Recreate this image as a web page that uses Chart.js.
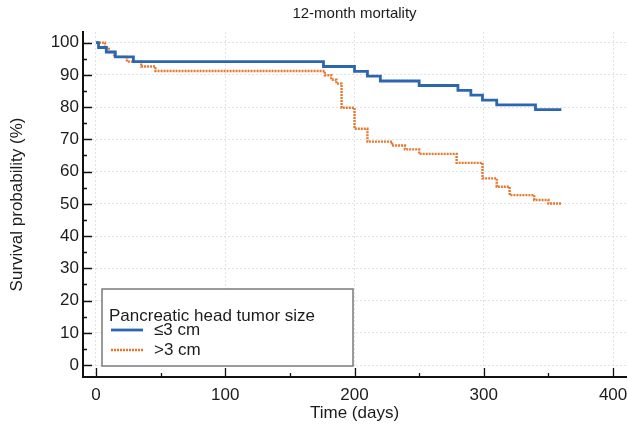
<!DOCTYPE html>
<html>
<head>
<meta charset="utf-8">
<script src="https://cdn.jsdelivr.net/npm/chart.js@4.4.1/dist/chart.umd.min.js"></script>
<style>
  html, body { margin: 0; padding: 0; background: #fff; }
</style>
</head>
<body>
<canvas id="km" width="628" height="435"></canvas>
<script>
// Kaplan-Meier, 12-month mortality by pancreatic head tumour size
const chartTitle = '12-month mortality';
const legendTitle = 'Pancreatic head tumor size';
const groupLabels = ['≤3 cm', '>3 cm'];
const xTickValues = [0, 100, 200, 300, 400];
const yTickValues = [0, 10, 20, 30, 40, 50, 60, 70, 80, 90, 100];

// ≤3 cm group: event times (days) and survival (%) after each step
const smallDays = [0, 2, 8, 15, 29, 176, 200, 210, 220, 250, 280, 290, 299, 310, 340, 360];
const smallSurv = [100, 98.5, 97.1, 95.6, 94.1, 92.6, 91.1, 89.6, 88.1, 86.7, 85.2, 83.7, 82.2, 80.7, 79.2, 79.2];

// >3 cm group
const largeDays = [0, 7, 10, 14, 24, 35, 46, 177, 182, 186, 190, 200, 210, 229, 239, 250, 279, 299, 310, 320, 339, 350, 360];
const largeSurv = [100, 98.5, 97.1, 95.6, 94.1, 92.6, 91.2, 89.9, 88.5, 87.3, 79.8, 73.3, 69.3, 68.1, 66.9, 65.5, 62.7, 57.9, 55.3, 52.7, 51.2, 50.1, 50.1];

const FONT = "'Liberation Sans', Arial, Helvetica, sans-serif";
const TEXT = '#1c1c1c';

function toPoints(xs, ys) {
    return xs.map((x, i) => ({ x: x, y: ys[i] }));
}

// titre centré sur la zone du graphique
const titlePlugin = {
    id: 'plotTitle',
    afterDraw(chart) {
        const { ctx, chartArea } = chart;
        ctx.save();
        ctx.font = '15px ' + FONT;
        ctx.fillStyle = TEXT;
        ctx.textAlign = 'center';
        ctx.textBaseline = 'middle';
        ctx.fillText(chartTitle, (chartArea.left + chartArea.right) / 2, 14);
        ctx.restore();
    }
};

// petites graduations vers l'intérieur
const innerTicks = {
    id: 'innerTicks',
    afterDraw(chart) {
        const { ctx, chartArea, scales } = chart;
        ctx.save();
        ctx.strokeStyle = '#111';
        ctx.lineWidth = 1.3;
        ctx.beginPath();
        for (let v = 0; v <= 400; v += 50) {
            const px = Math.round(scales.x.getPixelForValue(v)) + 0.5;
            const len = v % 100 === 0 ? 9 : 4;
            ctx.moveTo(px, chartArea.bottom);
            ctx.lineTo(px, chartArea.bottom - len);
        }
        for (let v = 0; v <= 100; v += 5) {
            const py = Math.round(scales.y.getPixelForValue(v)) + 0.5;
            const len = v % 10 === 0 ? 9 : 4;
            ctx.moveTo(chartArea.left, py);
            ctx.lineTo(chartArea.left + len, py);
        }
        ctx.stroke();
        ctx.restore();
    }
};

// légende encadrée en bas à gauche
const boxLegend = {
    id: 'boxLegend',
    afterDatasetsDraw(chart) {
        const { ctx } = chart;
        const x0 = 102, y0 = 289, w = 251, h = 77;
        ctx.save();
        ctx.fillStyle = '#fff';
        ctx.fillRect(x0, y0, w, h);
        ctx.strokeStyle = '#7a7a7a';
        ctx.lineWidth = 1.5;
        ctx.strokeRect(x0, y0, w, h);
        ctx.font = '17px ' + FONT;
        ctx.fillStyle = TEXT;
        ctx.textBaseline = 'middle';
        ctx.fillText(legendTitle, 109, 316);
        chart.data.datasets.forEach((ds, i) => {
            const cy = 330 + i * 20;
            ctx.strokeStyle = ds.borderColor;
            ctx.lineWidth = ds.borderWidth;
            ctx.setLineDash(ds.borderDash || []);
            ctx.beginPath();
            ctx.moveTo(111, cy);
            ctx.lineTo(143, cy);
            ctx.stroke();
            ctx.setLineDash([]);
            ctx.fillText(ds.label, 154, cy);
        });
        ctx.restore();
    }
};

const ctx = document.getElementById('km').getContext('2d');
const kmChart = new Chart(ctx, {
    type: 'line',
    data: {
        datasets: [
            {
                label: groupLabels[0],
                data: toPoints(smallDays, smallSurv),
                borderColor: '#2c66b3',
                borderWidth: 2.8,
                stepped: 'before',
                pointRadius: 0,
                fill: false
            },
            {
                label: groupLabels[1],
                data: toPoints(largeDays, largeSurv),
                borderColor: '#e8772d',
                borderWidth: 2.4,
                borderDash: [2, 1],
                stepped: 'before',
                pointRadius: 0,
                fill: false
            }
        ]
    },
    options: {
        responsive: false,
        animation: false,
        layout: { padding: { top: 32, right: 2, left: 0, bottom: 0 } },
        plugins: {
            legend: { display: false },
            tooltip: { enabled: false }
        },
        scales: {
            x: {
                type: 'linear',
                min: -10,
                max: 410,
                afterBuildTicks(scale) {
                    scale.ticks = xTickValues.map(v => ({ value: v }));
                },
                afterFit(scale) {
                    scale.height = 58;
                    scale.paddingLeft = 0;
                    scale.paddingRight = 0;
                },
                ticks: {
                    padding: 8,
                    color: TEXT,
                    font: { family: FONT, size: 17 },
                    maxRotation: 0
                },
                grid: {
                    color: '#dfe3e8',
                    lineWidth: 1,
                    drawTicks: false
                },
                border: { color: '#111', width: 2, dash: [2, 2] },
                title: {
                    display: true,
                    text: 'Time (days)',
                    color: TEXT,
                    font: { family: FONT, size: 17 },
                    padding: { top: 0, bottom: 11 }
                }
            },
            y: {
                min: -3.7,
                max: 103.3,
                afterBuildTicks(scale) {
                    scale.ticks = yTickValues.map(v => ({ value: v }));
                },
                afterFit(scale) {
                    scale.width = 83;
                },
                ticks: {
                    padding: 4,
                    color: TEXT,
                    font: { family: FONT, size: 17 }
                },
                grid: {
                    color: '#dfe3e8',
                    lineWidth: 1,
                    drawTicks: false
                },
                border: { color: '#111', width: 2, dash: [2, 2] },
                title: {
                    display: true,
                    text: 'Survival probability (%)',
                    color: TEXT,
                    font: { family: FONT, size: 17 },
                    padding: { top: 7, bottom: 0 }
                }
            }
        }
    },
    plugins: [titlePlugin, innerTicks, boxLegend]
});
</script>
</body>
</html>
